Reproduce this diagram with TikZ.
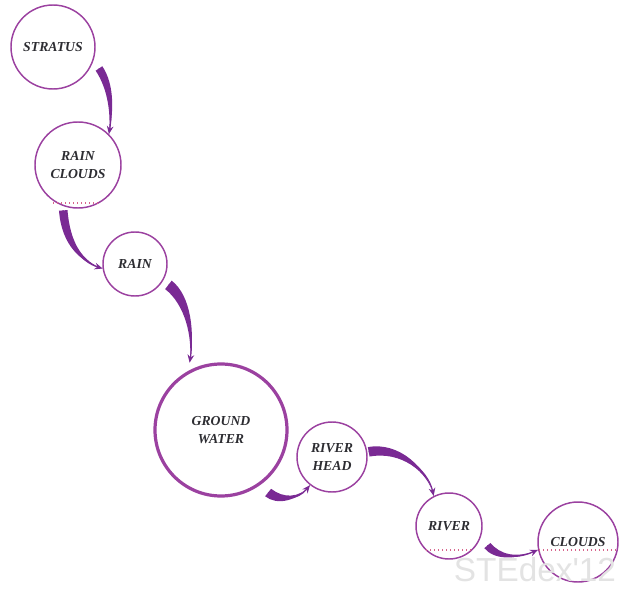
\documentclass[tikz,border=0pt]{standalone}
\usepackage{fontspec}
\setmainfont{Liberation Serif}
\newfontfamily\wmfont{Liberation Sans}
\usetikzlibrary{calc,arrows.meta}
\definecolor{ring}{RGB}{155,65,160}
\definecolor{flow}{RGB}{122,42,148}
\definecolor{dots}{RGB}{215,100,140}
\definecolor{labelc}{RGB}{45,45,50}
\tikzset{
 stage/.style={circle, draw=ring, line width=1.1pt, fill=white, inner sep=0pt, text=labelc,
   font=\fontsize{10.3}{13.5}\selectfont\bfseries\itshape, align=center},
 bigstage/.style={stage, line width=2.4pt},
 flowline/.style={draw=flow, line width=0.9pt, -{Stealth[length=6pt,width=5pt]}},
 chord/.style={draw=dots, line width=1pt, dotted},
}
\newcommand{\flowarrow}[5]{%
 \path #1 coordinate (fa) #2 coordinate (fb) #3 coordinate (fc) #4 coordinate (fd);
 \path ($(fa)!#5!90:(fb)$) coordinate (fa1) ($(fa)!#5!-90:(fb)$) coordinate (fa2);
 \fill[flow] (fa1) .. controls ($(fb)+(fa1)-(fa)$) and ($(fc)+0.35*(fa1)-0.35*(fa)$) .. (fd)
   .. controls ($(fc)+0.35*(fa2)-0.35*(fa)$) and ($(fb)+(fa2)-(fa)$) .. (fa2) -- cycle;
 \draw[flowline] (fa) .. controls (fb) and (fc) .. (fd);
}
\begin{document}
\begin{tikzpicture}[x=0.75pt,y=-0.75pt]
\useasboundingbox (0,0) rectangle (625,592);
% stages
\node[stage, minimum size=63pt] (stratus) at (53,47) {STRATUS};
\node[stage, minimum size=64.5pt] (rainclouds) at (78,165) {RAIN\\CLOUDS};
\node[stage, minimum size=48pt] (rain) at (135,264) {RAIN};
\node[bigstage, minimum size=99pt] (groundwater) at (221,430) {GROUND\\WATER};
\node[stage, minimum size=52.5pt] (riverhead) at (332,457) {RIVER\\HEAD};
\node[stage, minimum size=49.5pt] (river) at (449,526) {RIVER};
\node[stage, minimum size=60pt] (clouds) at (578,542) {CLOUDS};
% dotted chords
\draw[chord] ($(rainclouds.center)+(-25,38)$) coordinate (rc1) -- ($(rainclouds.center)+(22,38)$) coordinate (rc2);
\draw[chord] ($(river.center)+(-23,24)$) coordinate (rv1) -- ($(river.center)+(23,24)$) coordinate (rv2);
\draw[chord] ($(clouds.center)+(-39,8)$) coordinate (cl1) -- ($(clouds.center)+(39,8)$) coordinate (cl2);
% connectors
\coordinate (a1s) at ($(stratus.-25)!-6pt!(stratus.center)$);
\coordinate (a1e) at (rainclouds.45);
\flowarrow{(a1s)}{(112,88)}{(112,115)}{(a1e)}{3pt}
\coordinate (a2s) at ($(rainclouds.-108)!-3pt!(rainclouds.center)$);
\coordinate (a2e) at (rain.188);
\flowarrow{(a2s)}{(66,245)}{(82,262)}{(a2e)}{3.2pt}
\coordinate (a3s) at ($(rain.-32)!-5pt!(rain.center)$);
\coordinate (a3e) at ($(groundwater.115)!-5pt!(groundwater.center)$);
\flowarrow{(a3s)}{(188,300)}{(194,335)}{(a3e)}{4pt}
\coordinate (a4s) at ($(groundwater.-53)!-8pt!(groundwater.center)$);
\coordinate (a4e) at (riverhead.-128);
\flowarrow{(a4s)}{(280,502)}{(298,500)}{(a4e)}{3.6pt}
\coordinate (a5s) at ($(riverhead.8)!-1pt!(riverhead.center)$);
\coordinate (a5e) at (river.117);
\flowarrow{(a5s)}{(400,446)}{(428,470)}{(a5e)}{3.6pt}
\coordinate (a6s) at ($(river.-27)!-7pt!(river.center)$);
\coordinate (a6e) at (clouds.191);
\flowarrow{(a6s)}{(497,557)}{(515,560)}{(a6e)}{3pt}
% watermark
\node[font=\wmfont\fontsize{25}{25}\selectfont, text=gray!22] (wm) at (535,570) {STEdex'12};
\end{tikzpicture}
\end{document}
